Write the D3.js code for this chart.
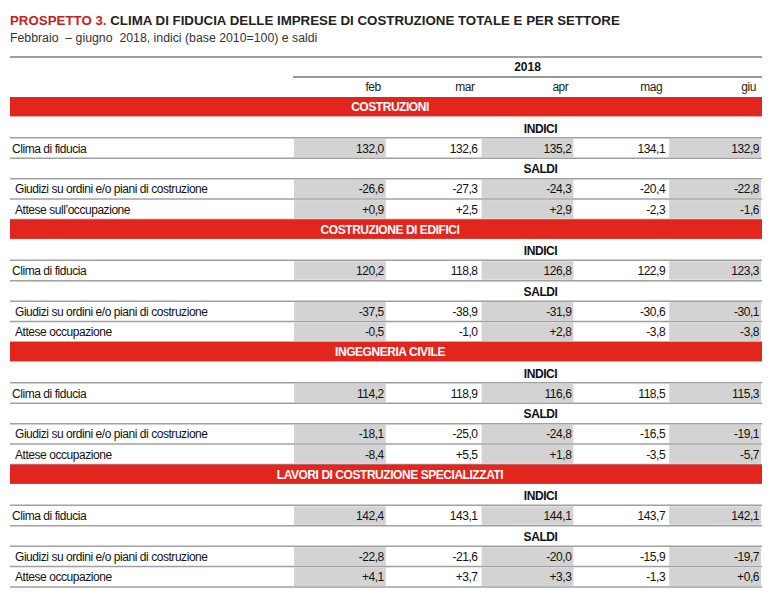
<!DOCTYPE html>
<html>
<head>
<meta charset="utf-8">
<script src="https://cdn.jsdelivr.net/npm/d3@7"></script>
<style>
  body { margin: 0; background: #fff; }
  text { font-family: "Liberation Sans Narrow", "Arial Narrow", "Liberation Sans", sans-serif; white-space: pre; }
  .cell { letter-spacing: -0.45px; }
</style>
</head>
<body>
<svg width="774" height="600"></svg>
<script>
const months = ["feb", "mar", "apr", "mag", "giu"];
const sectors = ["COSTRUZIONI", "COSTRUZIONE DI EDIFICI", "INGEGNERIA CIVILE", "LAVORI DI COSTRUZIONE SPECIALIZZATI"];
const clima = [
  [132.0, 132.6, 135.2, 134.1, 132.9],
  [120.2, 118.8, 126.8, 122.9, 123.3],
  [114.2, 118.9, 116.6, 118.5, 115.3],
  [142.4, 143.1, 144.1, 143.7, 142.1]
];
const giudizi = [
  [-26.6, -27.3, -24.3, -20.4, -22.8],
  [-37.5, -38.9, -31.9, -30.6, -30.1],
  [-18.1, -25.0, -24.8, -16.5, -19.1],
  [-22.8, -21.6, -20.0, -15.9, -19.7]
];
const attese = [
  [0.9, 2.5, 2.9, -2.3, -1.6],
  [-0.5, -1.0, 2.8, -3.8, -3.8],
  [-8.4, 5.5, 1.8, -3.5, -5.7],
  [4.1, 3.7, 3.3, -1.3, 0.6]
];
const atteseLabels = ["Attese sull’occupazione", "Attese occupazione", "Attese occupazione", "Attese occupazione"];

const red = "#e2261d";
const grid = "#a0a0a0";
const shade = "#d3d3d3";

const svg = d3.select("svg");
const left = 10;
const right = 762;
const labelRight = 293;

const locale = d3.formatLocale({ decimal: ",", thousands: ".", grouping: [3], currency: ["", "€"], minus: "-" });
const fmt = locale.format(".1f");
const fmtSigned = locale.format("+.1f");

// title
const title = svg.append("text")
    .attr("x", left)
    .attr("y", 25)
    .attr("font-size", 13.3)
    .style("font-family", "'Liberation Sans', Arial, sans-serif");
title.append("tspan")
    .attr("fill", "#c8201c")
    .attr("font-weight", "bold")
    .text("PROSPETTO 3. ");
title.append("tspan")
    .attr("fill", "#222")
    .attr("font-weight", "bold")
    .text("CLIMA DI FIDUCIA DELLE IMPRESE DI COSTRUZIONE TOTALE E PER SETTORE");

svg.append("text")
    .attr("x", left)
    .attr("y", 42)
    .attr("font-size", 12.3)
    .attr("fill", "#333")
    .style("font-family", "'Liberation Sans', Arial, sans-serif")
    .text("Febbraio  – giugno  2018, indici (base 2010=100) e saldi");

svg.append("line")
    .attr("x1", left).attr("x2", right)
    .attr("y1", 57).attr("y2", 57)
    .attr("stroke", grid).attr("stroke-width", 2);

// columns
const x = d3.scaleBand()
    .domain(months)
    .range([labelRight, right]);

// header
svg.append("text")
    .attr("x", (labelRight + right) / 2)
    .attr("y", 71)
    .attr("text-anchor", "middle")
    .attr("font-size", 12)
    .attr("font-weight", "bold")
    .attr("fill", "#111")
    .text("2018");

svg.append("line")
    .attr("x1", labelRight).attr("x2", right)
    .attr("y1", 77).attr("y2", 77)
    .attr("stroke", "#333").attr("stroke-width", 1);

svg.selectAll(".month")
  .data(months)
  .join("text")
    .attr("class", "cell")
    .attr("x", d => x(d) + x.bandwidth() - 6)
    .attr("y", 91)
    .attr("text-anchor", "end")
    .attr("font-size", 12)
    .attr("fill", "#222")
    .text(d => d);

// rows
const rowKinds = ["band", "indici", "clima", "saldi", "giudizi", "attese"];
const rowIds = d3.range(sectors.length * rowKinds.length);
const y = d3.scaleBand()
    .domain(rowIds)
    .range([97, 587]);
const rh = y.bandwidth();

sectors.forEach((name, s) => {
  const base = s * rowKinds.length;
  const g = svg.append("g");

  g.append("rect")
      .attr("x", left).attr("width", right - left)
      .attr("y", y(base)).attr("height", rh - 1)
      .attr("fill", red);
  g.append("text")
      .attr("class", "cell")
      .attr("x", (left + right) / 2 + 4)
      .attr("y", y(base) + rh / 2 + 4)
      .attr("text-anchor", "middle")
      .attr("font-size", 12)
      .attr("font-weight", "bold")
      .attr("fill", "#fff")
      .text(name);

  ["INDICI", "SALDI"].forEach((lab, i) => {
    g.append("text")
        .attr("class", "cell")
        .attr("x", (labelRight + right) / 2 + 13)
        .attr("y", y(base + 1 + i * 2) + rh / 2 + 5)
        .attr("text-anchor", "middle")
        .attr("font-size", 12)
        .attr("font-weight", "bold")
        .attr("fill", "#111")
        .text(lab);
  });

  const dataRows = [
    { row: base + 2, label: "Clima di fiducia", indent: 2, values: clima[s], f: fmt },
    { row: base + 4, label: "Giudizi su ordini e/o piani di costruzione", indent: 5, values: giudizi[s], f: fmtSigned },
    { row: base + 5, label: atteseLabels[s], indent: 5, values: attese[s], f: fmtSigned }
  ];

  dataRows.forEach(r => {
    const ry = y(r.row);
    g.selectAll(null)
      .data(months.filter((m, i) => i % 2 === 0))
      .join("rect")
        .attr("x", d => x(d) + 1)
        .attr("width", x.bandwidth() - 2)
        .attr("y", ry + 1)
        .attr("height", rh - 2)
        .attr("fill", shade);
    g.append("text")
        .attr("class", "cell")
        .attr("x", left + r.indent)
        .attr("y", ry + rh / 2 + 4.5)
        .attr("font-size", 12)
        .attr("fill", "#111")
        .text(r.label);
    g.selectAll(null)
      .data(r.values)
      .join("text")
        .attr("class", "cell")
        .attr("x", (d, i) => x(months[i]) + x.bandwidth() - 3)
        .attr("y", ry + rh / 2 + 4.5)
        .attr("text-anchor", "end")
        .attr("font-size", 12)
        .attr("fill", "#111")
        .text(d => r.f(d));
  });

  // horizontal rules
  [base + 2, base + 3, base + 4, base + 5, base + 6].forEach(k => {
    const ly = k < rowIds.length ? y(k) : y(k - 1) + rh;
    g.append("line")
        .attr("x1", left).attr("x2", right)
        .attr("y1", ly).attr("y2", ly)
        .attr("stroke", grid).attr("stroke-width", 1.5);
  });
});
</script>
</body>
</html>
